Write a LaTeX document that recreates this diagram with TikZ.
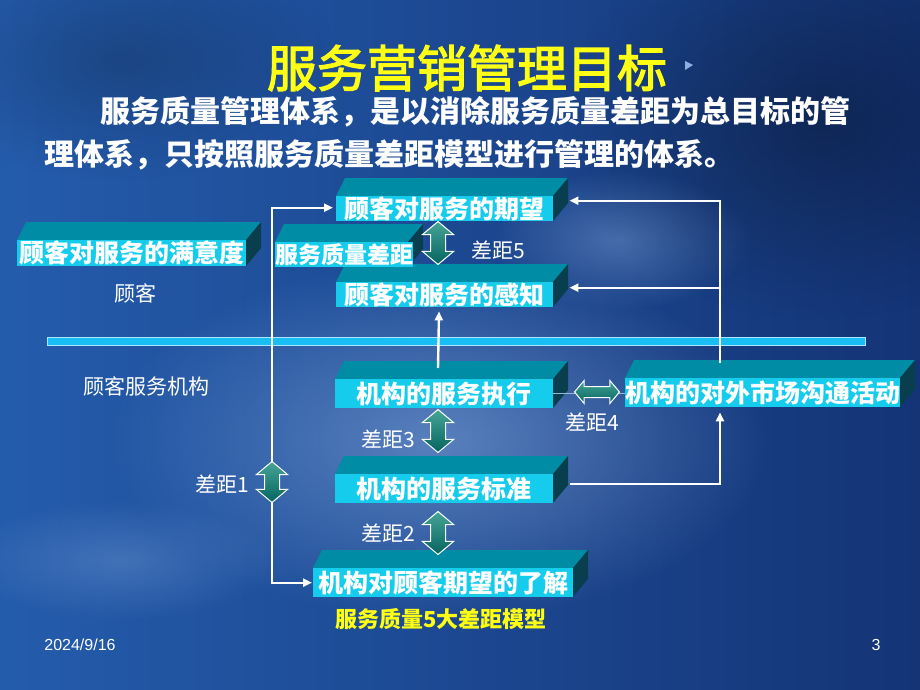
\documentclass[tikz,border=0pt]{standalone}
\usepackage{fontspec}
\setmainfont{Noto Sans CJK SC}
\newfontfamily\titlefont{Noto Sans CJK SC}[FakeBold=2.5]
\newfontfamily\latinsans{Liberation Sans}
\usetikzlibrary{arrows.meta,shapes.arrows,calc,fadings}
\tikzfading[name=softout, inner color=transparent!0, outer color=transparent!100]
\definecolor{frontc}{RGB}{22,204,236}
\definecolor{topc}{RGB}{0,140,165}
\definecolor{sidec}{RGB}{8,62,78}
\definecolor{gaplight}{RGB}{70,165,150}
\definecolor{gapdark}{RGB}{5,100,95}
\definecolor{linec}{RGB}{25,190,245}
\definecolor{lineedge}{RGB}{170,230,255}
\definecolor{titley}{RGB}{255,255,20}
\definecolor{bg1}{RGB}{36,92,172}
\definecolor{bg2}{RGB}{20,52,118}
\definecolor{glow}{RGB}{140,175,225}
\definecolor{thinc}{RGB}{150,185,215}
\tikzset{
  front/.style={fill=frontc, inner sep=0pt, text=white, font=\bfseries\fontsize{25}{25}\selectfont, anchor=north west},
  topface/.style={fill=topc},
  sideface/.style={fill=sidec},
  arr/.style={draw=white, line width=2.4pt, -{Triangle[length=9pt,width=8pt]}},
  gap/.style={double arrow, draw=white, line width=1pt, top color=gaplight, bottom color=gapdark, minimum height=43pt, inner xsep=0pt, inner ysep=7pt, double arrow head extend=8pt, double arrow tip angle=100},
  gapv/.style={gap, rotate=90},
  lbl/.style={text=white, font=\fontsize{21}{21}\selectfont, inner sep=0pt},
  body/.style={text=white, font=\bfseries\fontsize{30}{30}\selectfont, inner sep=0pt, anchor=west},
  foot/.style={text=white, font=\latinsans\fontsize{16}{16}\selectfont, inner sep=0pt},
}
\newcommand{\tdbox}[6]{%
  \fill[topface] (#2,#3) -- (#2+9,#3-18) -- (#4+15,#3-18) -- (#4,#3) -- cycle;
  \fill[sideface] (#4,#3) -- (#4+15,#3-18) -- (#4+15,#5-18) -- (#4,#5) -- cycle;
  \node[front, minimum width={(#4-#2)*1pt}, minimum height={(#5-#3)*1pt}] (#1) at (#2,#3) {#6};
}
\begin{document}
\begin{tikzpicture}[x=1pt,y=-1pt]
% background
\useasboundingbox (0,0) rectangle (920,690);
\shade[left color=bg1, right color=bg2] (0,0) rectangle (920,690);
\fill[glow, path fading=softout, opacity=0.55] (440,440) ellipse (330 and 180);
\fill[glow, path fading=softout, opacity=0.4] (620,240) ellipse (130 and 70);
\fill[glow, path fading=softout, opacity=0.3] (120,560) ellipse (160 and 60);
\fill[black, path fading=softout, opacity=0.3] (820,120) ellipse (260 and 200);
\fill[black, path fading=softout, opacity=0.2] (120,60) ellipse (220 and 120);

% title and body
\node[text=titley, font=\titlefont\fontsize{50}{50}\selectfont, inner sep=0pt] (title) at (467,68) {服务营销管理目标};
\fill[glow] (685,61) -- (693,65) -- (685,70) -- cycle;
\node[body] (b1) at (100,112) {服务质量管理体系，是以消除服务质量差距为总目标的管};
\node[body] (b2) at (44,155) {理体系，只按照服务质量差距模型进行管理的体系。};

% divider
\draw[draw=lineedge, fill=linec, line width=0.8pt] (47,337) rectangle (865,345);

% boxes
\tdbox{sat}{17}{240}{246}{266}{顾客对服务的满意度}
\tdbox{expect}{336}{196}{553}{221}{顾客对服务的期望}
\tdbox{percv}{336}{282}{553}{307}{顾客对服务的感知}
\tdbox{gapq}{275}{242}{408}{267}{\fontsize{23}{23}\selectfont 服务质量差距}
\tdbox{exec}{335}{379}{553}{408}{机构的服务执行}
\tdbox{dui}{625}{378}{900}{407}{机构的对外市场沟通活动}
\tdbox{std}{335}{474}{553}{503}{机构的服务标准}
\tdbox{know}{313}{568}{573}{597}{机构对顾客期望的了解}

% connectors
\coordinate (c1) at (272,482);
\draw[arr, {Triangle[length=9pt,width=8pt]}-{Triangle[length=9pt,width=8pt]}] ([xshift=-3pt,yshift=1pt]expect.west) -| (c1) |- ([xshift=-1pt]know.west);
\draw[arr] ([xshift=95pt,yshift=15pt]dui.north west) |- ([xshift=16pt,yshift=8pt]expect.east);
\draw[arr] ([xshift=95pt,yshift=15pt]dui.north west) |- ([xshift=16pt,yshift=7pt]percv.east);
\draw[arr] ([xshift=17pt,yshift=5pt]std.east) -| ([xshift=95pt,yshift=-5pt]dui.south west);
\draw[arr] ([xshift=103pt,yshift=11pt]exec.north west) -- ([xshift=103pt,yshift=-4pt]percv.south west);
\draw[thinc, line width=1.5pt] (exec.east) -- (exec.east -| dui.west);

% gaps
\node[gapv] (g5) at (438,243) {};
\node[gapv] (g3) at (438,431) {};
\node[gapv] (g2) at (438,533) {};
\node[gapv, minimum height=41pt] (g1) at (c1) {};
\node[gap, minimum height=45pt, inner ysep=5pt, double arrow head extend=6pt] (g4) at (597,392) {};

% labels
\node[lbl] (lcust) at (135,293) {顾客};
\node[lbl] (l5) at (498,250) {差距5};
\node[lbl] (lorg) at (146,386) {顾客服务机构};
\node[lbl] (l4) at (592,422) {差距4};
\node[lbl] (l3) at (388,439) {差距3};
\node[lbl] (l1) at (222,484) {差距1};
\node[lbl] (l2) at (388,533) {差距2};
\node[lbl, text=titley, font=\bfseries\fontsize{22}{22}\selectfont] (lmodel) at (441,619) {服务质量5大差距模型};
\node[foot] (date) at (80,645) {2024/9/16};
\node[foot] (page) at (876,645) {3};
\end{tikzpicture}
\end{document}
